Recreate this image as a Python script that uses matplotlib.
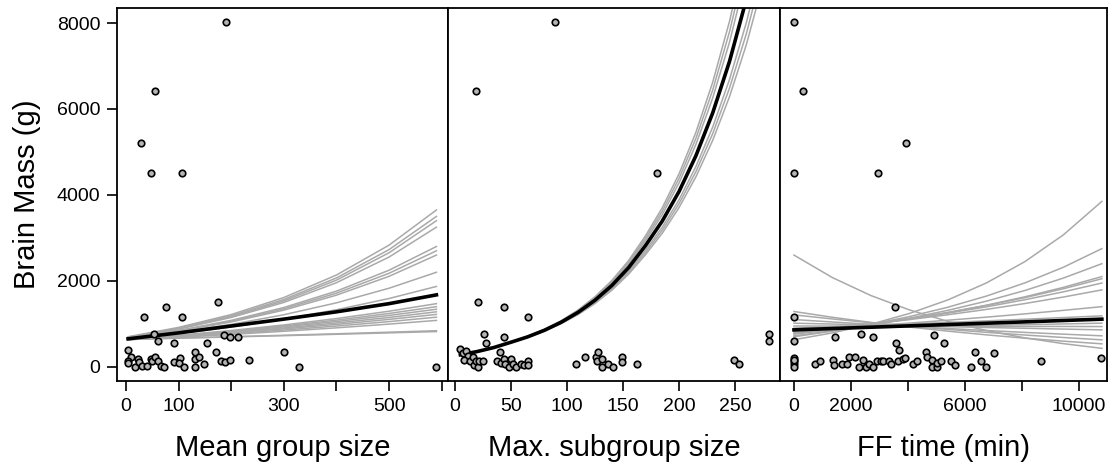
import matplotlib
matplotlib.use('Agg')
from matplotlib import pyplot as plt

plt.rcParams['font.family'] = ['Liberation Sans', 'DejaVu Sans']

# ---- panel 1: mean group size ----
mgs_x = [191, 56, 28, 47, 107, 34, 76, 106, 174, 54, 61, 92, 187, 198, 213,
         4, 9, 4, 4, 17, 22, 25, 30, 40, 47, 50, 55, 61, 66, 72, 92, 103, 101,
         111, 131, 131, 131, 139, 149, 154, 172, 181, 188, 198, 234, 300, 328, 589]
mgs_y = [8030, 6420, 5210, 4520, 4520, 1155, 1390, 1155, 1500, 755, 604, 550, 751, 705, 698,
         400, 240, 140, 85, 7, 178, 116, 23, 23, 178, 132, 225, 132, 23, 7, 116, 194, 85,
         7, 350, 178, 7, 240, 70, 550, 350, 132, 116, 163, 163, 350, 7, 7]
mgs_knots = [4, 100, 200, 300, 400, 500, 590]
mgs_fit = [651, 790, 950, 1110, 1280, 1470, 1674]
mgs_boot = [
    [700, 917, 1216, 1612, 2136, 2832, 3650],
    [690, 900, 1188, 1567, 2068, 2728, 3500],
    [680, 885, 1165, 1533, 2017, 2654, 3400],
    [680, 879, 1148, 1498, 1957, 2555, 3250],
    [670, 847, 1081, 1380, 1761, 2248, 2800],
    [665, 837, 1063, 1349, 1714, 2177, 2700],
    [660, 826, 1044, 1319, 1667, 2106, 2600],
    [660, 804, 987, 1212, 1489, 1829, 2200],
    [650, 773, 926, 1109, 1328, 1590, 1870],
    [640, 733, 845, 974, 1123, 1294, 1470],
    [640, 728, 832, 950, 1086, 1242, 1400],
    [640, 722, 819, 930, 1055, 1196, 1340],
    [635, 712, 803, 905, 1020, 1149, 1280],
    [635, 707, 790, 883, 987, 1104, 1220],
    [630, 696, 772, 856, 949, 1052, 1155],
    [630, 688, 754, 827, 907, 994, 1080],
    [640, 669, 701, 734, 769, 806, 840],
    [640, 666, 695, 725, 757, 790, 820],
]

# ---- panel 2: max subgroup size ----
msg_x = [89, 19, 180, 5, 7.5, 10.4, 12, 8.6, 13.4, 16, 17.6, 19.3, 21, 22, 25, 21, 26, 28,
         38, 40, 41, 44, 45, 48, 50, 44, 44, 65, 52, 55, 59, 62, 65, 65,
         108, 116, 126, 128, 126.5, 131, 131, 137, 141, 149, 149, 162.5, 249, 253, 280, 280]
msg_y = [8030, 6420, 4520, 411, 318, 365, 256, 163, 132, 240, 39, 132, 7, 132, 132, 1504, 767, 550,
         132, 350, 85, 178, 70, 7, 178, 1388, 705, 1155, 70, 7, 70, 39, 132, 39,
         70, 240, 240, 350, 132, 7, 178, 70, 7, 225, 116, 70, 163, 54, 767, 598]
msg_knots = [5, 20, 35, 50, 65, 80, 95, 110, 125, 140, 155, 170, 185, 200, 215, 230, 245, 260, 275]
msg_fit = [280, 355, 450, 571, 697, 851, 1039, 1268, 1549, 1891, 2308, 2818, 3391, 4080,
           4910, 5908, 7109, 8554, 10293]
msg_boot = [
    [274, 351, 449, 574, 707, 871, 1074, 1323, 1630, 2008, 2472, 3046, 3700, 4492, 5455, 6623, 8041, 9760, 11848],
    [275, 352, 449, 573, 704, 866, 1065, 1309, 1609, 1978, 2430, 2988, 3620, 4386, 5315, 6440, 7799, 9448, 11446],
    [277, 353, 449, 573, 702, 861, 1057, 1295, 1589, 1948, 2389, 2931, 3540, 4280, 5175, 6257, 7557, 9135, 11045],
    [283, 357, 451, 569, 692, 841, 1022, 1242, 1510, 1836, 2230, 2710, 3248, 3889, 4658, 5579, 6688, 8009, 9593],
    [284, 358, 451, 568, 690, 836, 1013, 1229, 1491, 1808, 2192, 2658, 3178, 3798, 4540, 5425, 6487, 7752, 9268],
    [286, 359, 451, 568, 687, 831, 1005, 1216, 1472, 1781, 2155, 2607, 3108, 3706, 4420, 5270, 6286, 7497, 8943],
]

# ---- panel 3: FF time ----
ff_x = [0, 316, 3930, 0, 2950, 0, 0, 3554, 0, 0, 0, 0, 0,
        725, 912, 1380, 1403, 1427, 1684, 1849, 1919, 2151, 2270, 2361, 2431, 2526, 2621,
        2782, 2761, 2902, 3042, 3134, 3323, 3415, 3579, 3674, 3649, 3814, 3906, 4187, 4305,
        4632, 4655, 4912, 4832, 4842, 5007, 5007, 5147, 5263, 5509, 5649, 6351, 6210, 6561,
        6726, 7007, 8667, 10772]
ff_y = [8030, 6420, 5210, 4520, 4520, 1155, 612, 1388, 194, 132, 70, 163, 7,
        70, 132, 163, 39, 705, 70, 70, 240, 225, 7, 767, 163, 7, 70,
        705, 7, 147, 132, 132, 132, 70, 550, 395, 132, 178, 194, 70, 132,
        350, 240, 751, 163, 7, 7, 85, 132, 550, 132, 39, 350, 7, 132,
        7, 333, 132, 194]
ff_knots = [0, 1350, 2700, 4050, 5400, 6750, 8100, 9450, 10800]
ff_fit = [860, 891, 922, 953, 984, 1015, 1046, 1078, 1109]
ff_boot = [
    [630, 790, 990, 1242, 1557, 1952, 2448, 3071, 3850],
    [700, 831, 985, 1169, 1387, 1646, 1953, 2317, 2750],
    [720, 837, 973, 1131, 1315, 1528, 1776, 2065, 2400],
    [760, 863, 980, 1113, 1263, 1434, 1629, 1849, 2100],
    [780, 880, 993, 1121, 1265, 1427, 1610, 1817, 2050],
    [800, 894, 1000, 1117, 1249, 1396, 1561, 1745, 1950],
    [820, 904, 997, 1099, 1212, 1336, 1473, 1624, 1790],
    [840, 895, 955, 1017, 1085, 1156, 1232, 1314, 1400],
    [900, 932, 964, 998, 1033, 1069, 1107, 1146, 1186],
    [1287, 1153, 1033, 926, 830, 744, 666, 597, 535],
    [1209, 1114, 1026, 946, 871, 803, 740, 682, 628],
    [1100, 1043, 990, 939, 891, 845, 801, 760, 721],
    [1016, 995, 975, 954, 935, 915, 897, 878, 860],
    [950, 948, 947, 945, 944, 942, 940, 939, 937],
    [880, 896, 912, 929, 946, 963, 980, 998, 1016],
    [2600, 2076, 1658, 1324, 1057, 844, 674, 539, 430],
]

panels = [
    dict(x=mgs_x, y=mgs_y, kx=mgs_knots, fit=mgs_fit, boot=mgs_boot,
         xlim=(-17, 612), ticks=[0, 100, 200, 300, 400, 500, 600],
         labels=['0', '100', '', '300', '', '500', ''], title='Mean group size'),
    dict(x=msg_x, y=msg_y, kx=msg_knots, fit=msg_fit, boot=msg_boot,
         xlim=(-6, 290), ticks=[0, 50, 100, 150, 200, 250],
         labels=['0', '50', '100', '150', '200', '250'], title='Max. subgroup size'),
    dict(x=ff_x, y=ff_y, kx=ff_knots, fit=ff_fit, boot=ff_boot,
         xlim=(-490, 10980), ticks=[0, 2000, 4000, 6000, 8000, 10000],
         labels=['0', '2000', '', '6000', '', '10000'], title='FF time (min)'),
]

fig = plt.figure(figsize=(11.16, 4.70), dpi=100)
lefts = [117, 448, 780, 1107]
for i, p in enumerate(panels):
    l = lefts[i] / 1116
    w = (lefts[i + 1] - lefts[i]) / 1116
    ax = fig.add_axes([l, 1 - 381 / 470, w, (381 - 8) / 470])
    for b in p['boot']:
        ax.plot(p['kx'], b, color='#a9a9a9', lw=1.1, zorder=1)
    ax.plot(p['kx'], p['fit'], color='black', lw=2.6, zorder=2)
    ax.scatter(p['x'], p['y'], s=22, facecolor='#b4b4b4', edgecolor='black',
               linewidth=1.2, zorder=3)
    ax.set_xlim(p['xlim'])
    ax.set_ylim(-330, 8350)
    ax.set_xticks(p['ticks'])
    ax.set_xticklabels(p['labels'])
    ax.set_xlabel(p['title'], fontsize=21, labelpad=14)
    for s in ax.spines.values():
        s.set_linewidth(1.3)
    ax.tick_params(axis='both', direction='out', length=7, width=1.2,
                   labelsize=14, pad=5)
    if i == 0:
        ax.set_yticks([0, 2000, 4000, 6000, 8000])
        ax.set_ylabel('Brain Mass (g)', fontsize=21, labelpad=11)
    else:
        ax.set_yticks([])

plt.savefig('out.png', dpi=100)
